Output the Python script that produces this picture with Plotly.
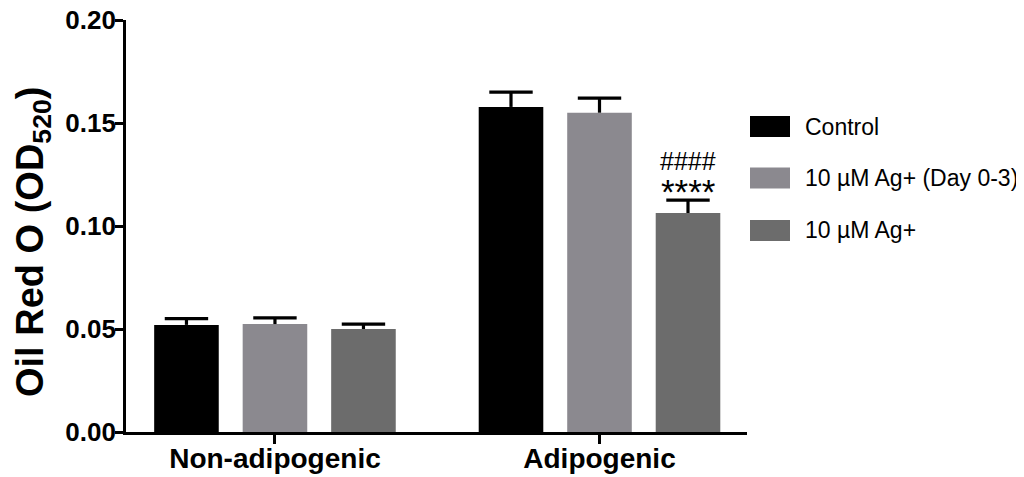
import plotly.graph_objects as go

categories = ["Non-adipogenic", "Adipogenic"]
series_names = ["Control", "10 \u00b5M Ag+ (Day 0-3)", "10 \u00b5M Ag+"]
means = [
    [0.052, 0.1578],
    [0.0524, 0.155],
    [0.050, 0.1063],
]
sems = [
    [0.003, 0.0072],
    [0.003, 0.0071],
    [0.0024, 0.0063],
]
colors = ["#000000", "#8b898f", "#6c6c6c"]
y_ticks = [0.00, 0.05, 0.10, 0.15, 0.20]
y_tick_labels = ["0.00", "0.05", "0.10", "0.15", "0.20"]
sig_labels = ["####", "****"]
y_title = "Oil Red O (OD<sub>520</sub>)"

FONT = "Arial, Liberation Sans, Helvetica, sans-serif"
BAR_W = 0.199
OFFSETS = [-0.2727, 0.0, 0.2727]

# page offset (default body margin of the html page)
OFF = 8
# plot area in page pixels
PL, PR, PT, PB = 126, 747, 20, 432
W, H = 1024 - OFF, 477 - OFF
L, T = PL - OFF, PT - OFF
R = W - (PR - OFF)
B = H - (PB - OFF)
PW, PH = PR - PL, PB - PT


def px(xp):
    return (xp - PL) / PW


def py(yp):
    return (PB - yp) / PH


fig = go.Figure()
cat_pos = list(range(len(categories)))
for name, m, e, c, off in zip(series_names, means, sems, colors, OFFSETS):
    xs = [p + off for p in cat_pos]
    fig.add_trace(go.Bar(
        x=xs, y=m, name=name, width=BAR_W,
        marker=dict(color=c, line=dict(width=0)),
        showlegend=False, hoverinfo="y",
    ))
    tops = [mi + ei for mi, ei in zip(m, e)]
    fig.add_trace(go.Scatter(
        x=xs, y=tops, mode="markers", showlegend=False, hoverinfo="skip",
        marker=dict(symbol="line-ew", size=31, color="#000000",
                    line=dict(width=3.2, color="#000000")),
        error_y=dict(type="data", array=[0] * len(e), arrayminus=e, symmetric=False,
                     color="#000000", thickness=3.2, width=0),
    ))

# significance markers above the last bar of the Adipogenic group
top = means[2][1] + sems[2][1]
sx = cat_pos[1] + OFFSETS[2]
fig.add_annotation(x=sx, y=top, xref="x", yref="y", yanchor="middle", yshift=9,
                   text=sig_labels[1], showarrow=False,
                   font=dict(family=FONT, size=35, color="#000000"))
fig.add_annotation(x=sx, y=top, xref="x", yref="y", yanchor="middle", yshift=39,
                   text=sig_labels[0], showarrow=False,
                   font=dict(family=FONT, size=25, color="#000000"))

# y-axis title
fig.add_annotation(x=px(33), y=py(242), xref="paper", yref="paper",
                   text=y_title, textangle=-90, showarrow=False,
                   xanchor="center", yanchor="middle",
                   font=dict(family=FONT, size=38, color="#000000", weight="bold"))

# custom legend
leg_y = [126.5, 178, 230.5]
for name, c, yy in zip(series_names, colors, leg_y):
    fig.add_shape(type="rect", xref="paper", yref="paper",
                  x0=px(750), x1=px(790), y0=py(yy + 10.5), y1=py(yy - 10.5),
                  fillcolor=c, line=dict(width=0))
    fig.add_annotation(x=px(803), y=py(yy), xref="paper", yref="paper",
                       text=name, showarrow=False, xanchor="left", yanchor="middle",
                       font=dict(family=FONT, size=23, color="#000000"))

fig.update_layout(
    width=W, height=H,
    margin=dict(l=L, r=R, t=T, b=B),
    paper_bgcolor="white", plot_bgcolor="white",
    barmode="overlay",
    font=dict(family=FONT, color="#000000"),
    xaxis=dict(
        tickvals=cat_pos, ticktext=categories,
        showline=True, linecolor="#000000", linewidth=2.8,
        ticks="outside", ticklen=9, tickwidth=2.8, tickcolor="#000000",
        tickfont=dict(family=FONT, size=28, color="#000000", weight="bold"),
        ticklabelstandoff=-10, ticklabeloverflow="allow",
        range=[-0.459, 1.4545], showgrid=False, zeroline=False, automargin=False,
    ),
    yaxis=dict(
        range=[0, 0.2], tickvals=y_ticks, ticktext=y_tick_labels,
        showline=True, linecolor="#000000", linewidth=2.8,
        ticks="outside", ticklen=8, tickwidth=2.8, tickcolor="#000000",
        tickfont=dict(family=FONT, size=26, color="#000000", weight="bold"),
        ticklabelstandoff=-6, ticklabeloverflow="allow",
        showgrid=False, zeroline=False, automargin=False,
    ),
)

fig.write_html("out.html")
